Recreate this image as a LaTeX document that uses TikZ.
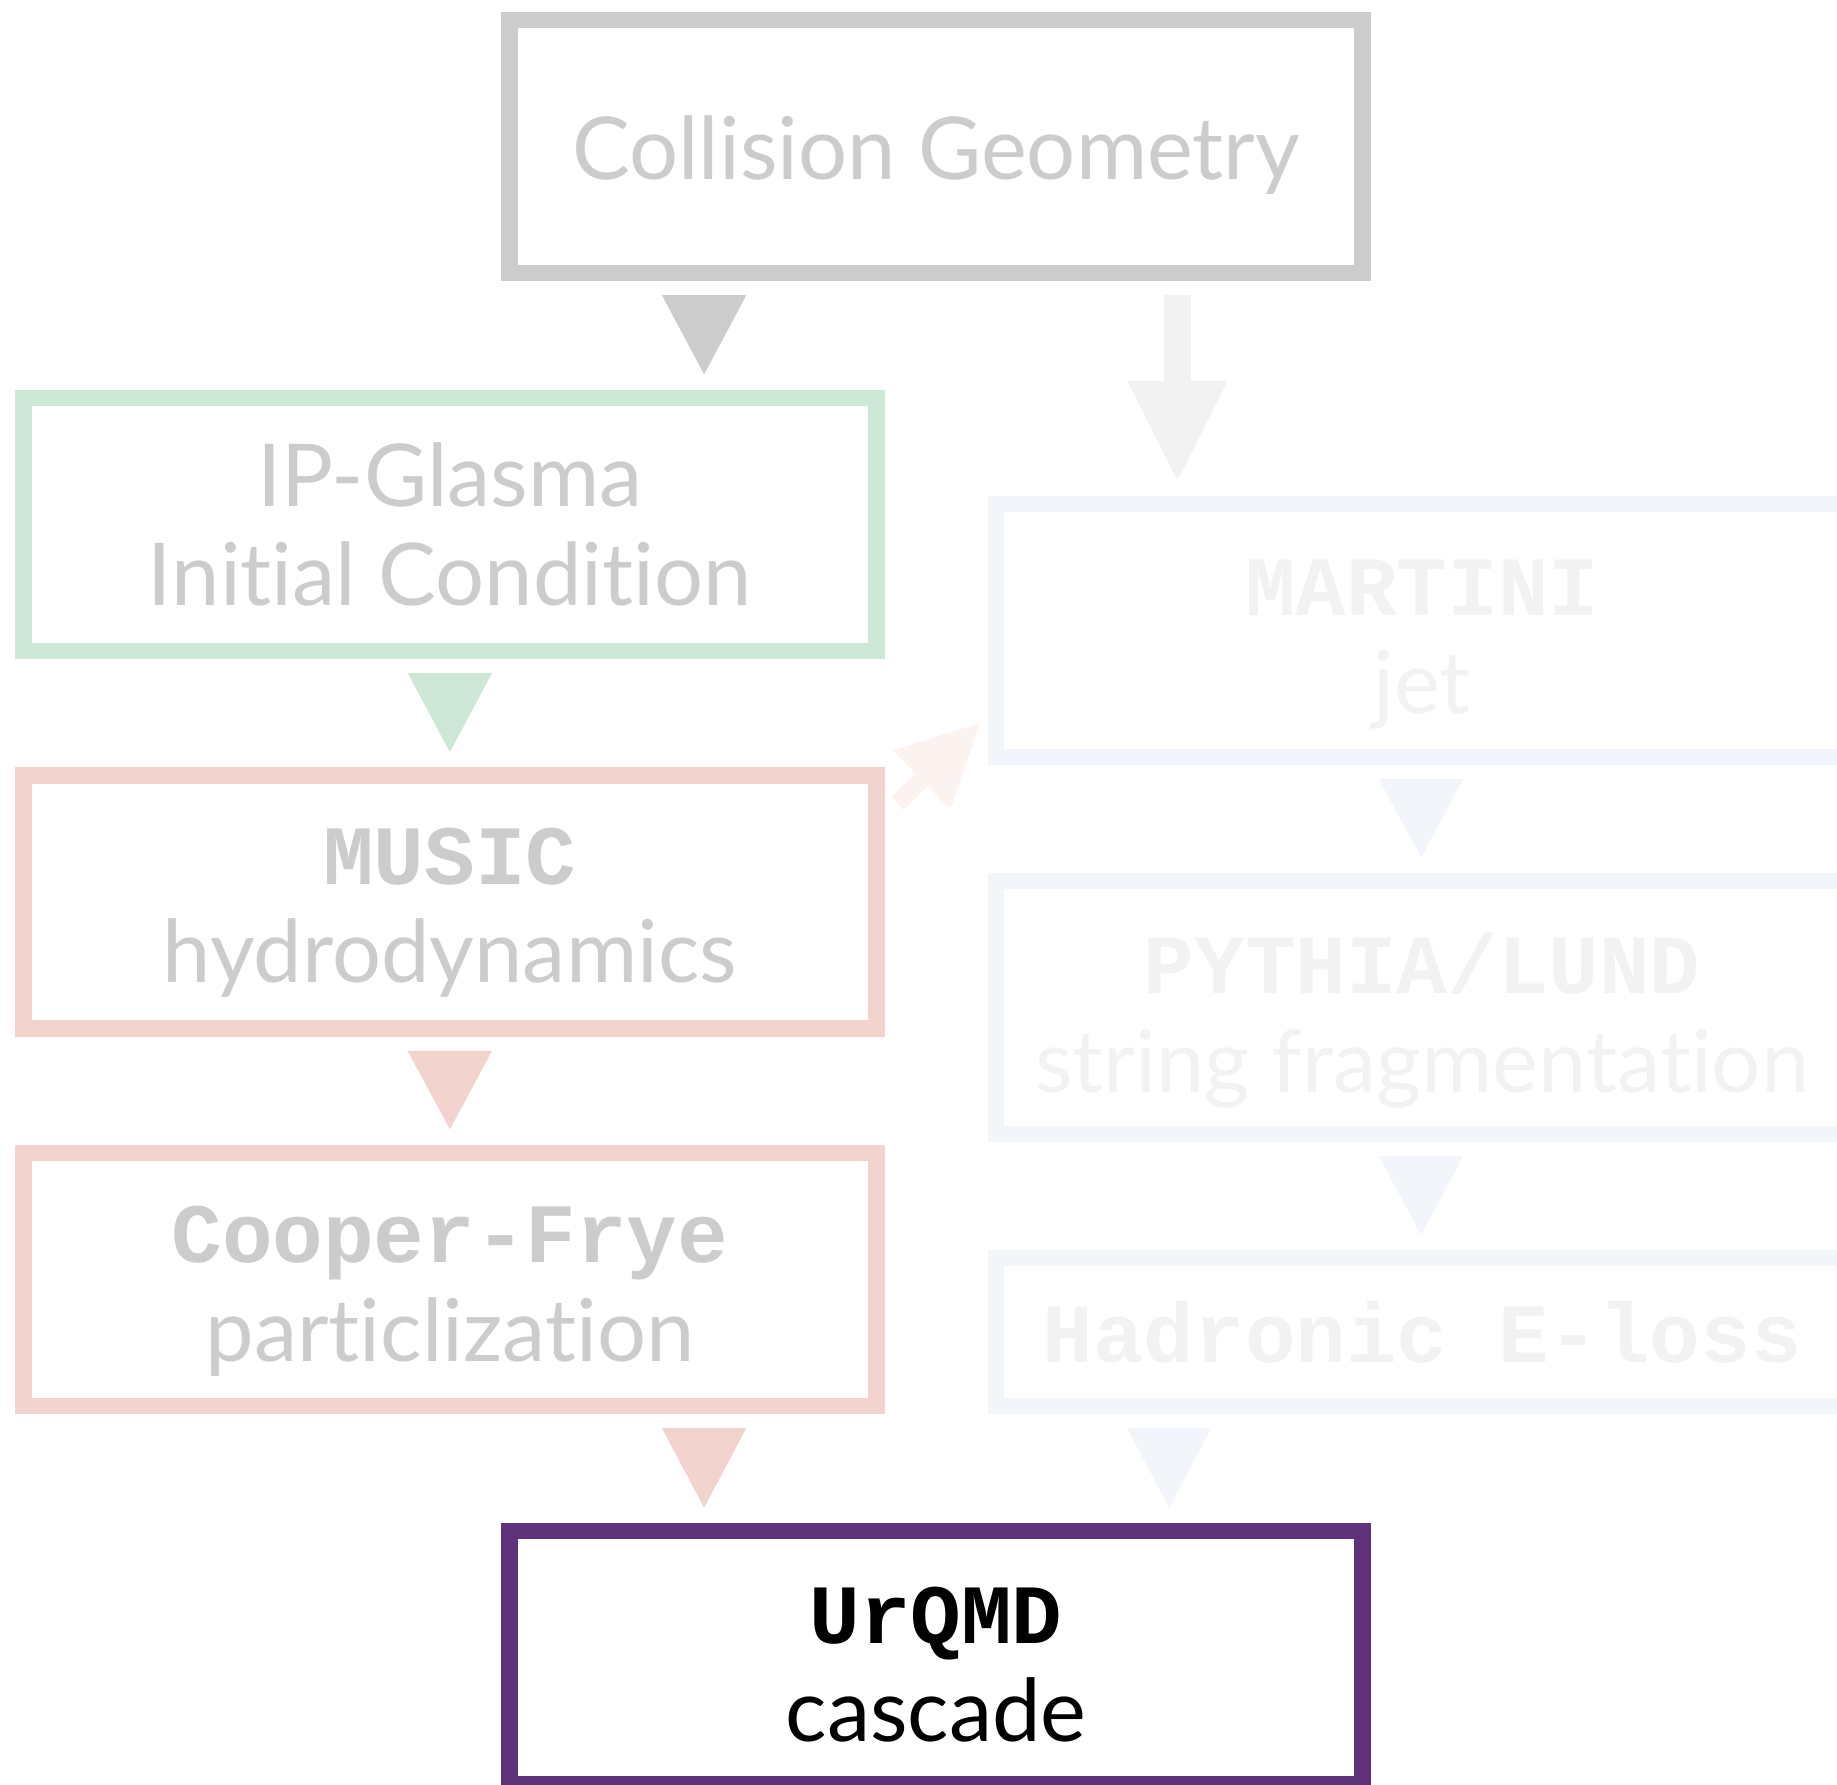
\documentclass[tikz,border=0pt]{standalone}
\usepackage{fontspec}
\setmainfont{Lato}[Ligatures={NoCommon,NoRare}]
\newfontfamily\codefont{Liberation Mono}
\usetikzlibrary{calc}

\definecolor{cgray}{HTML}{CCCCCC}
\definecolor{cgreen}{HTML}{CDE8D6}
\definecolor{cpink}{HTML}{F3D3CD}
\definecolor{cpurple}{HTML}{5E3379}
\definecolor{cblue}{HTML}{F2F5FA}
\definecolor{cfaint}{HTML}{F2F2F2}
\definecolor{crose}{HTML}{FCF2F0}

\newcommand\code[1]{{\codefont\bfseries\fontsize{72}{84}\selectfont #1}}
% downward triangular arrow from one box to the next, at a given column
\newcommand\droptri[4]{%
  \fill[#4] ($(#1.south -| #3)+(-36,19)$) -- ($(#1.south -| #3)+(36,19)$)
    -- ($(#2.north -| #3)+(0,-20)$) -- cycle;}

\begin{document}
\begin{tikzpicture}[x=1pt,y=-1pt,
  box/.style={draw, line width=14pt, outer sep=0pt, inner sep=0pt,
    minimum width=728pt, minimum height=216pt},
  caption/.style={inner sep=0pt, align=center,
    font=\fontsize{74}{84}\selectfont},
  grayb/.style={box, draw=cgray},
  greenb/.style={box, draw=cgreen},
  pinkb/.style={box, draw=cpink},
  blueb/.style={box, draw=cblue},
  finalb/.style={box, draw=cpurple}]
\useasboundingbox (0,0) rectangle (1568,1523);
\clip (0,0) rectangle (1568,1523);

% column positions of the arrows
\coordinate (colA) at (601,0);
\coordinate (colB) at (384,0);
\coordinate (colC) at (1213,0);
\coordinate (colD) at (998,0);
\coordinate (colE) at (1005,0);

% boxes
\node[grayb]  (cg)      at (799,125)  {};
\node[greenb] (ipg)     at (384,447.5) {};
\node[pinkb]  (music)   at (384,770)  {};
\node[pinkb]  (cf)      at (384,1092) {};
\node[blueb]  (martini) at (1214,538) {};
\node[blueb]  (pythia)  at (1214,860) {};
\node[blueb, minimum height=126pt] (hadr) at (1214,1137) {};
\node[finalb] (urqmd)   at (799,1415) {};

% box captions
\node[caption, text=cgray]  (cg-t)      at ($(cg.center)+(0,7)$)       {Collision Geometry};
\node[caption, text=cgray]  (ipg-t)     at (ipg.center)                {IP-Glasma\\Initial Condition};
\node[caption, text=cgray]  (music-t)   at ($(music.center)+(0,9)$)    {\code{MUSIC}\\hydrodynamics};
\node[caption, text=cgray]  (cf-t)      at ($(cf.center)+(0,10)$)      {\code{Cooper-Frye}\\particlization};
\node[caption, text=cfaint] (martini-t) at ($(martini.center)+(0,12)$) {\code{MARTINI}\\jet};
\node[caption, text=cfaint] (pythia-t)  at ($(pythia.center)+(0,11)$)  {\code{PYTHIA/LUND}\\string fragmentation};
\node[caption, text=cfaint] (hadr-t)    at (hadr.center)               {\code{Hadronic E-loss}};
\node[caption, text=black]  (urqmd-t)   at ($(urqmd.center)+(0,6)$)    {\code{UrQMD}\\cascade};

% triangular arrows
\droptri{cg}{ipg}{colA}{cgray}
\droptri{ipg}{music}{colB}{cgreen}
\droptri{music}{cf}{colB}{cpink}
\droptri{cf}{urqmd}{colA}{cpink}
\droptri{martini}{pythia}{colC}{cblue}
\droptri{pythia}{hadr}{colC}{cblue}
\droptri{hadr}{urqmd}{colD}{cblue}

% block arrow from the geometry to the jet branch
\fill[cfaint] ($(cg.south -| colE)+(-11.5,19)$) -- ($(cg.south -| colE)+(11.5,19)$)
  -- ($(martini.north -| colE)+(11.5,-105)$) -- ($(martini.north -| colE)+(43,-105)$)
  -- ($(martini.north -| colE)+(0,-20)$)
  -- ($(martini.north -| colE)+(-43,-105)$) -- ($(martini.north -| colE)+(-11.5,-105)$)
  -- cycle;

% diagonal block arrow from the hydro medium to the jet
\coordinate (tail) at ($(music.north east)+(18,24)$);
\coordinate (tip) at ($(martini.south west)+(-13.5,-29)$);
\coordinate (hb) at ($(tail)!0.293!(tip)$);
\fill[crose] ($(tail)!7.6pt!90:(tip)$) -- ($(hb)!7.6pt!90:(tip)$)
  -- ($(hb)!35pt!90:(tip)$) -- (tip) -- ($(hb)!35pt!-90:(tip)$)
  -- ($(hb)!7.6pt!-90:(tip)$) -- ($(tail)!7.6pt!-90:(tip)$) -- cycle;
\end{tikzpicture}
\end{document}
